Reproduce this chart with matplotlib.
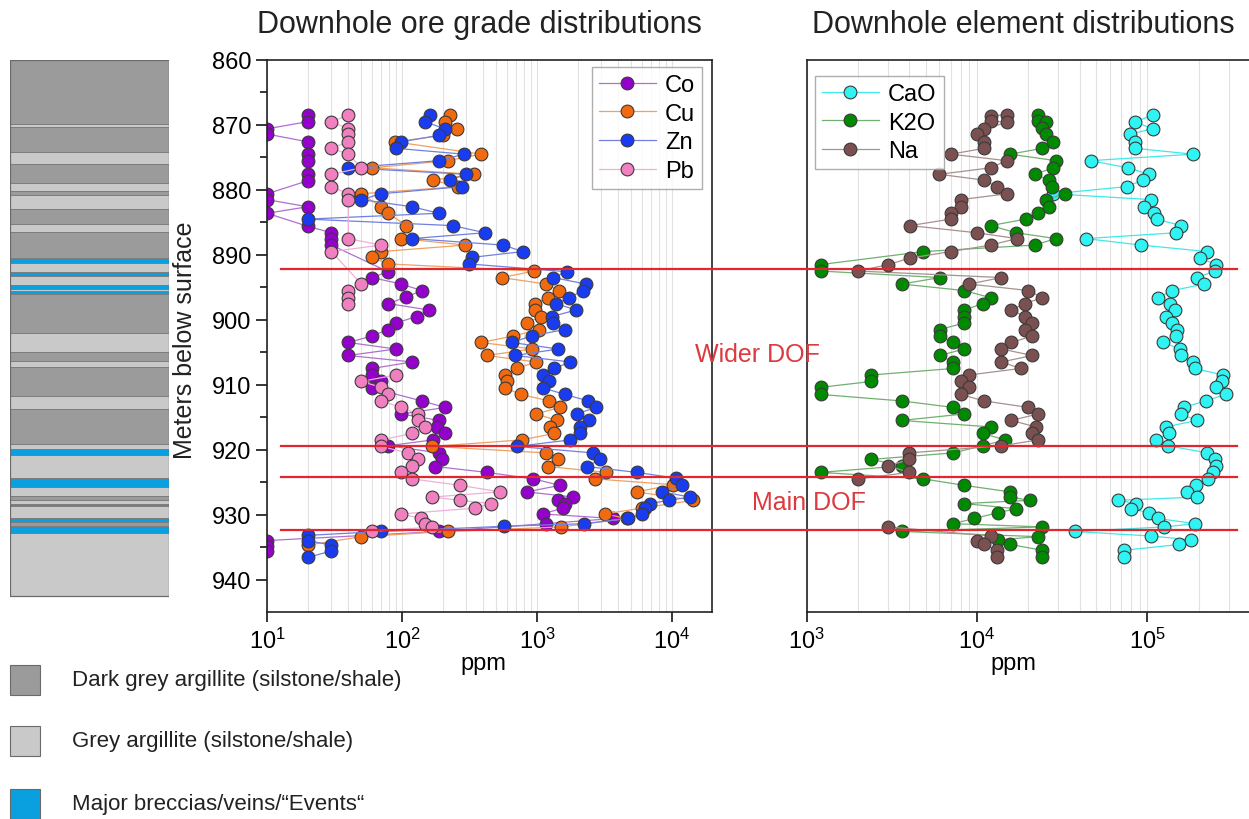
import numpy as np
import matplotlib.pyplot as plt
from matplotlib.patches import Rectangle
from matplotlib.lines import Line2D
from matplotlib.transforms import blended_transform_factory

plt.rcParams['font.family'] = ['Liberation Sans', 'DejaVu Sans']
plt.rcParams['mathtext.fontset'] = 'custom'
plt.rcParams['mathtext.rm'] = 'Liberation Sans'

nan = np.nan

# ── Ore grades (ppm) ─────────────────────────────────────────────────────────
co_depth = [868.5, 869.5, 870.6, 871.4, 872.6, 874.5, 875.5, 877.6, 878.6, 880.6,
            881.5, 882.6, 883.6, 885.6, 886.6, 887.5, 888.5, 892.6, 893.5, 894.5,
            895.5, 896.5, 897.5, 898.5, 899.5, 900.5, 901.5, 902.5, 903.5, 904.5,
            905.5, 906.5, 907.5, 908.5, 909.5, 910.5, 912.5, 913.5, 914.5, 915.5,
            916.5, 917.5, 918.5, 919.4, 920.5, 921.5, 922.6, 923.5, 924.5, 925.5,
            926.5, 927.3, 927.8, 928.3, 929.0, 929.9, 930.6, 931.4, 932.6, 934.0,
            934.8, 935.6]
co_ppm = [20, 20, 10, 10, 20, 20, 20, 20, 20, 10,
          10, 20, 10, 20, 30, 30, 30, 79, 60, 99,
          140, 108, 79, 158, 129, 90, 79, 60, 40, 90,
          40, 119, 60, 60, 70, 60, 140, 210, 99, 188,
          181, 210, 169, 79, 188, 197, 177, 424, 940, 1480,
          838, 1860, 1440, 1600, 1560, 1100, 3670, 1160, 188, 10,
          10, 10]

cu_depth = [868.5, 869.5, 870.6, 871.6, 872.6, 874.5, 875.5, 876.6, 877.6, 878.5,
            879.5, 880.6, 882.6, 883.6, 885.5, 887.5, 888.5, 889.5, 890.4, 891.4,
            892.5, 893.5, 894.5, 895.5, 896.6, 897.5, 898.5, 899.5, 900.5, 901.5,
            902.5, 903.5, 904.5, 905.5, 906.5, 907.5, 908.5, 909.5, 910.5, 911.5,
            912.5, 913.5, 914.5, 915.5, 916.5, 917.5, 918.5, 919.5, 920.5, 921.5,
            922.6, 923.5, 924.5, 925.4, 926.5, 927.8, 929.0, 929.9, 930.6, 931.9,
            932.6, 933.4, 934.7]
cu_ppm = [227, 208, 257, 202, 89, 385, 218, 60, 341, 169,
          261, 50, 70, 79, 108, 99, 293, 70, 60, 79,
          950, 547, 1170, 1455, 1200, 966, 966, 1064, 840, 1040,
          668, 385, 925, 424, 984, 706, 579, 603, 579, 762,
          1230, 1480, 984, 1400, 1250, 1340, 769, 168, 1170, 1440,
          1210, 3220, 2690, 10200, 5470, 14400, 5960, 3190, 4610, 1510,
          218, 50, 20]

zn_depth = [868.5, 869.5, 870.6, 871.6, 872.6, 873.6, 874.5, 875.5, 876.6, 877.6,
            878.5, 879.5, 880.6, 881.5, 882.6, 883.6, 884.5, 885.5, 886.6, 887.5,
            888.5, 889.5, 890.4, 891.4, 892.6, 893.5, 894.5, 895.5, 896.6, 897.5,
            898.5, 899.5, 900.5, 901.5, 902.5, 903.5, 904.5, 905.5, 906.5, 907.5,
            908.5, 909.5, 910.5, 911.5, 912.5, 913.5, 914.5, 915.5, 916.5, 917.5,
            918.5, 919.5, 920.5, 921.5, 922.6, 923.5, 924.4, 925.4, 926.5, 927.3,
            927.8, 928.3, 929.0, 929.9, 930.6, 931.4, 931.8, 932.6, 933.2, 934.0,
            934.7, 935.6, 936.6]
zn_ppm = [161, 148, 208, 188, 99, 90, 288, 188, 40, 298,
          227, 277, 70, 50, 119, 188, 20, 237, 412, 119,
          564, 783, 328, 313, 1660, 1320, 2310, 2180, 1740, 1380,
          1950, 1290, 1320, 1600, 912, 649, 1440, 687, 1770, 1340,
          1100, 1220, 1110, 1610, 2400, 2740, 1970, 2440, 2080, 2080,
          1770, 706, 2610, 2930, 2330, 5470, 10800, 11800, 8470, 13600,
          9550, 6870, 6310, 6030, 4740, 2240, 573, 70, 20, 20,
          30, 30, 20]

pb_depth = [868.5, 869.5, 870.6, 871.4, 872.6, 873.6, 874.5, 876.6, 877.6, 879.5,
            880.6, 881.5, 887.5, 888.5, 889.5, 894.5, 895.5, 896.6, 897.5, 903.0,
            908.5, 909.5, 910.4, 911.4, 912.5, 913.5, 914.5, 915.5, 916.5, 917.5,
            918.5, 919.5, 920.5, 921.5, 922.5, 923.5, 924.5, 925.5, 926.5, 927.3,
            927.8, 928.3, 929.0, 929.9, 930.6, 931.4, 931.9, 932.6]
pb_ppm = [40, 30, 40, 40, 40, 30, 40, 50, 30, 30,
          40, 40, 40, 70, 30, 50, 40, 40, 40, nan,
          90, 50, 70, 79, 70, 99, 131, 131, 148, 119,
          70, 70, 110, 131, 119, 99, 119, 269, 532, 168,
          269, 456, 348, 99, 138, 148, 168, 60]

# ── Major elements (ppm) ─────────────────────────────────────────────────────
cao_depth = [868.5, 869.5, 870.6, 871.4, 872.6, 873.6, 874.5, 875.5, 876.6, 877.6,
             878.5, 879.5, 880.6, 881.5, 882.6, 883.6, 884.5, 885.5, 886.6, 887.5,
             888.5, 889.5, 890.5, 891.5, 892.5, 893.5, 894.5, 895.5, 896.6, 897.5,
             898.5, 899.5, 900.5, 901.5, 902.5, 903.5, 904.5, 905.5, 906.5, 907.5,
             908.5, 909.5, 910.4, 911.5, 912.5, 913.5, 914.5, 915.5, 916.5, 917.5,
             918.5, 919.4, 920.5, 921.5, 922.5, 923.5, 924.5, 925.4, 926.5, 927.3,
             927.8, 928.3, 929.1, 929.7, 930.6, 931.4, 931.9, 932.6, 933.3, 933.9,
             934.6, 935.5, 936.6]
cao_ppm = [108000, 84100, 107000, 78700, 84100, 84100, 185000, 46300, 76900, 102000,
           94200, 75300, 28000, 105000, 95500, 109000, 113000, 157000, 147000, 43400,
           92000, 224000, 203000, 252000, 248000, 195000, 215000, 140000, 115000, 135000,
           145000, 128000, 140000, 148000, 147000, 124000, 155000, 158000, 185000, 189000,
           278000, 272000, 254000, 288000, 219000, 163000, 157000, 195000, 128000, 134000,
           112000, 132000, 224000, 248000, 254000, 243000, 227000, 192000, 171000, 195000,
           67300, 86100, 79800, 102000, 115000, 191000, 125000, 37500, 105000, 181000,
           153000, 72900, 72900]

k2o_depth = [868.5, 869.4, 869.6, 870.5, 871.4, 872.6, 873.6, 874.5, 875.5, 876.6,
             877.6, 878.5, 879.5, 880.6, 881.5, 882.6, 883.6, 884.5, 885.5, 886.6,
             887.5, 888.5, 889.5, 891.5, 892.5, 893.5, 894.5, 895.5, 896.6, 897.5,
             898.5, 899.5, 900.5, 901.5, 902.5, 903.5, 904.5, 905.5, 906.5, 907.5,
             908.5, 909.5, 910.4, 911.5, 912.5, 913.5, 914.5, 915.5, 916.5, 917.5,
             918.5, 919.4, 920.5, 921.5, 922.5, 923.5, 924.5, 925.5, 926.5, 927.3,
             927.8, 928.3, 929.1, 929.7, 930.6, 931.4, 931.9, 932.6, 933.4, 933.9,
             934.6, 935.5, 936.6]
k2o_ppm = [22800, 22800, 25300, 24200, 25300, 28000, 24200, 15600, 29000, 28000,
           21800, 26500, 27700, 32700, 25400, 26500, 22800, 19300, 12000, 16900,
           29000, 21800, 4830, 1210, 1210, 6050, 3610, 8410, 12000, 10800,
           8410, 8410, 8410, 6050, 6050, 7240, 8410, 6050, 7240, 7240,
           2400, 2400, 1210, 1210, 3610, 7240, 8410, 3610, 12000, 10800,
           14600, 10800, 7240, 2400, 3610, 1210, 4830, 8410, 15600, 15600,
           20400, 8410, 16900, 13300, 9620, 7240, 24200, 3610, 22800, 13300,
           15600, 24200, 24200]

na_depth = [868.4, 868.6, 869.4, 869.6, 870.6, 871.4, 872.6, 873.6, 874.5, 875.5,
            876.6, 877.6, 878.5, 879.5, 880.6, 881.5, 882.6, 883.6, 884.5, 885.5,
            886.6, 887.5, 888.5, 889.5, 890.5, 891.5, 892.5, 893.5, 894.5, 895.5,
            896.6, 897.5, 898.5, 899.5, 900.5, 901.5, 902.5, 903.5, 904.5, 905.5,
            906.5, 907.5, 908.5, 909.5, 910.4, 911.5, 912.5, 913.5, 914.5, 915.5,
            916.5, 917.5, 918.5, 919.4, 920.5, 921.5, 922.5, 923.5, 924.5, 928.0,
            931.9, 933.3, 934.0, 934.6, 935.5, 936.6]
na_ppm = [15000, 12000, 12000, 15000, 11000, 9930, 11000, 11000, 7010, 14900,
          12000, 6000, 11000, 13000, 15000, 8000, 8000, 7010, 7010, 4040,
          9930, 17100, 12000, 7010, 4040, 3010, 2010, 13900, 9000, 20000,
          24200, 19100, 15900, 19100, 21100, 19100, 21100, 15900, 13900, 21100,
          13900, 18000, 9000, 8000, 9000, 8000, 11000, 20000, 22800, 15900,
          22100, 21100, 22800, 13900, 4000, 4000, 3010, 4000, 2010, nan,
          3010, 12000, 9930, 11000, 13000, 13000]

# ── Lithology column ─────────────────────────────────────────────────────────
litho_top = [860.0, 869.8, 870.3, 874.1, 876.0, 879.0, 880.2, 880.8, 882.9, 885.3,
             886.5, 890.5, 891.3, 892.7, 893.3, 894.7, 895.3, 895.6, 896.1, 902.0,
             905.0, 906.4, 907.3, 911.8, 913.7, 919.1, 919.9, 920.9, 924.3, 925.7,
             927.1, 927.8, 928.4, 928.7, 930.6, 931.2, 931.7, 932.9]
litho_base = 942.6
litho_kind = ['D', 'L', 'D', 'L', 'D', 'L', 'D', 'L', 'D', 'L',
              'D', 'B', 'L', 'B', 'L', 'B', 'L', 'B', 'D', 'L',
              'D', 'L', 'D', 'L', 'D', 'L', 'B', 'L', 'B', 'L',
              'D', 'L', 'B', 'L', 'B', 'D', 'B', 'L']
litho_colors = {'D': '#9b9b9b', 'L': '#c9c9c9', 'B': '#0aa0e0'}
litho_labels = ['Dark grey argillite (silstone/shale)',
                'Grey argillite (silstone/shale)',
                'Major breccias/veins/\u201cEvents\u201c']

dof_depths = [892.2, 919.4, 924.2, 932.3]

W, H = 1249, 820
fig = plt.figure(figsize=(W / 100, H / 100), dpi=100)

def px(x0, y0, w, h):
    return [x0 / W, 1 - (y0 + h) / H, w / W, h / H]

ax_c = fig.add_axes(px(10, 61, 159, 552))
ax_l = fig.add_axes(px(267, 61, 445, 552))
ax_r = fig.add_axes(px(806.7, 61, 477, 552))

# 1. Coluna litológica
tops = litho_top + [litho_base]
for i, k in enumerate(litho_kind):
    ax_c.bar(0.5, tops[i + 1] - tops[i], bottom=tops[i], width=1.0,
             color=litho_colors[k], edgecolor='#7d7d7d', linewidth=0.7)
ax_c.add_patch(Rectangle((0, 860), 1, litho_base - 860, fill=False,
                         edgecolor='#6a6a6a', linewidth=0.9))
ax_c.set_xlim(0, 1)
ax_c.set_ylim(945, 860)
ax_c.axis('off')

# 2. Teores
kw = dict(marker='o', ms=9.2, mec='#3a3a3a', mew=0.8, lw=0.9)
ax_l.plot(co_ppm, co_depth, color='#b070d0', mfc='#9400cc', label='Co', **kw)
ax_l.plot(cu_ppm, cu_depth, color='#f0a060', mfc='#f26a10', label='Cu', **kw)
ax_l.plot(zn_ppm, zn_depth, color='#7080e0', mfc='#1a3cf0', label='Zn', **kw)
ax_l.plot(pb_ppm, pb_depth, color='#f0b0d8', mfc='#f080c0', label='Pb', **kw)

ax_r.plot(cao_ppm, cao_depth, color='#40e8e8', mfc='#30f4f4', label='CaO', **kw)
ax_r.plot(k2o_ppm, k2o_depth, color='#70b070', mfc='#008a00', label='K2O', **kw)
ax_r.plot(na_ppm, na_depth, color='#a89090', mfc='#7b5050', label='Na', **kw)

for ax, xl in [(ax_l, (10, 1.98e4)), (ax_r, (1e3, 6.3e5))]:
    ax.set_xscale('log')
    ax.set_xlim(*xl)
    ax.set_ylim(945, 860)
    ax.grid(True, which='both', axis='x', color='#e2e2e2', lw=0.8)
    ax.set_axisbelow(True)
    ax.tick_params(axis='x', which='major', direction='out', length=7, width=1.1,
                   labelsize=17, pad=4)
    ax.tick_params(axis='x', which='minor', length=0)
    for s in ax.spines.values():
        s.set_linewidth(1.2)
        s.set_color('#222222')

ax_l.set_yticks(np.arange(860, 945, 10))
ax_l.set_yticks(np.arange(865, 945, 10), minor=True)
ax_l.tick_params(axis='y', which='major', length=8, width=1.1, labelsize=17)
ax_l.tick_params(axis='y', which='minor', length=5, width=1.1)
ax_r.set_yticks([])
ax_r.tick_params(axis='y', which='both', length=0)

leg_kw = dict(bbox_transform=fig.transFigure, loc='upper left', fancybox=False,
              edgecolor='#9a9a9a', fontsize=17, handlelength=2.4, borderpad=0.3,
              labelspacing=0.28, handletextpad=0.4, borderaxespad=0)
ax_l.legend(bbox_to_anchor=(592 / W, 1 - 68 / H), **leg_kw).get_frame().set_linewidth(1.0)
ax_r.legend(bbox_to_anchor=(815 / W, 1 - 77 / H), **leg_kw).get_frame().set_linewidth(1.0)

# 3. Linhas DOF
trans = blended_transform_factory(fig.transFigure, ax_l.transData)
for d in dof_depths:
    fig.add_artist(Line2D([281 / W, 1237 / W], [d, d], transform=trans,
                          color='#e0262e', lw=1.6, zorder=10))

red = '#dc3a3e'
fig.text(695 / W, 1 - 355 / H, 'Wider DOF', color=red, fontsize=18, va='center')
fig.text(752 / W, 1 - 503 / H, 'Main DOF', color=red, fontsize=18, va='center')

# 4. Textos
fig.text(257 / W, 1 - 25 / H, 'Downhole ore grade distributions', fontsize=22,
         va='center', color='#222222')
fig.text(812 / W, 1 - 25 / H, 'Downhole element distributions', fontsize=22,
         va='center', color='#222222')
fig.text(185 / W, 1 - 340 / H, 'Meters below surface', rotation=90, fontsize=18,
         va='center', ha='center', color='#222222')
fig.text(483 / W, 1 - 664 / H, 'ppm', fontsize=17, ha='center', va='center')
fig.text(1013 / W, 1 - 664 / H, 'ppm', fontsize=17, ha='center', va='center')

# 5. Legenda litológica
for (k, lab, y0) in zip(['D', 'L', 'B'], litho_labels, [666, 727, 790]):
    fig.add_artist(Rectangle((10 / W, 1 - (y0 + 30) / H), 30 / W, 30 / H,
                             transform=fig.transFigure, facecolor=litho_colors[k],
                             edgecolor='#6a6a6a', lw=0.8))
    fig.text(72 / W, 1 - (y0 + 15) / H, lab, fontsize=16, va='center', color='#222222')

plt.savefig('out.png', dpi=100)
plt.close()
